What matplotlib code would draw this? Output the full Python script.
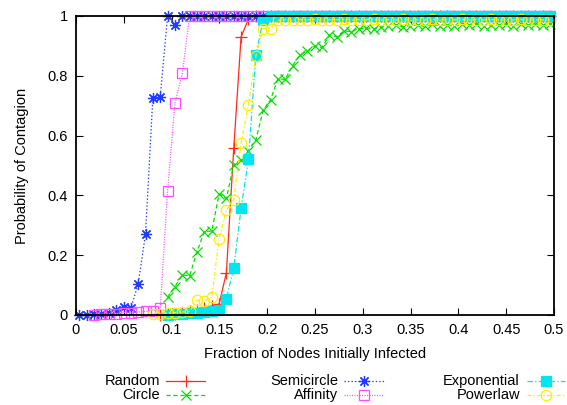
import numpy as np
import matplotlib
matplotlib.use("Agg")
import matplotlib.pyplot as plt
from matplotlib.lines import Line2D
from matplotlib.ticker import FuncFormatter, MultipleLocator

plt.rcParams["font.family"] = ["Liberation Sans", "DejaVu Sans"]
plt.rcParams["font.size"] = 10.5
plt.rcParams["lines.scale_dashes"] = False

# sampled fractions of initially infected nodes (shared sweep)
frac = np.round(0.0035 + np.arange(65) / 130, 4)

semicircle = [0.0, 0.0, 0.002, 0.005, 0.008, 0.017, 0.028, 0.022, 0.103, 0.27,
              0.727, 0.73, 1.0, 0.97] + [1.0] * 51
affinity = [0.0, 0.003, 0.005, 0.005, 0.008, 0.008, 0.01, 0.012, 0.015, 0.022,
            0.416, 0.708, 0.808, 1.0] + [1.0] * 49
random_ = [0.0, 0.002, 0.004, 0.007, 0.012, 0.018, 0.025, 0.03, 0.037, 0.141,
           0.557, 0.93, 0.99] + [1.0] * 41
circle = [0.06, 0.095, 0.134, 0.131, 0.212, 0.279, 0.281, 0.405, 0.39, 0.503,
          0.52, 0.55, 0.585, 0.685, 0.72, 0.79, 0.788, 0.834, 0.87, 0.883,
          0.899, 0.895, 0.935, 0.931, 0.95, 0.948, 0.958, 0.96, 0.958, 0.962,
          0.967, 0.971, 0.964, 0.968, 0.97, 0.965, 0.972, 0.968, 0.97, 0.966,
          0.972, 0.969, 0.974, 0.967, 0.971, 0.969, 0.973, 0.968, 0.972, 0.97,
          0.974, 0.969, 0.972]
exponential = [0.0, 0.002, 0.004, 0.006, 0.008, 0.011, 0.014, 0.018, 0.055, 0.156,
               0.357, 0.521, 0.868, 0.987] + [1.0] * 39
powerlaw = [0.004, 0.005, 0.006, 0.008, 0.01, 0.012, 0.05, 0.047, 0.06, 0.254,
            0.351, 0.385, 0.576, 0.704, 0.866, 0.958, 0.958, 0.985, 0.988, 0.986,
            0.988, 0.987, 0.989, 0.986, 0.988, 0.987, 0.989, 0.986, 0.988, 0.987,
            0.989, 0.986, 0.988, 0.987, 0.989, 0.986, 0.988, 0.987, 0.989, 0.986,
            0.988, 0.987, 0.989, 0.986, 0.988, 0.987, 0.989, 0.986, 0.988, 0.987,
            0.989, 0.986, 0.988, 0.987, 0.988]

# (label, values, first sweep index, colour, dashes, marker, size, filled)
series = [
    ("Random", random_, 11, "#ff2a1a", None, "+", 8.5, True),
    ("Circle", circle, 12, "#00e000", (3.0, 2.0), "x", 7, True),
    ("Semicircle", semicircle, 0, "#1f3cff", (1.0, 1.5), (8, 2, 0), 8, True),
    ("Affinity", affinity, 2, "#ff4dff", (0.8, 1.0), "s", 7, False),
    ("Exponential", exponential, 12, "#00e6f0", (4.0, 1.5, 1.0, 1.5), "s", 7, True),
    ("Powerlaw", powerlaw, 10, "#ffee00", (3.0, 1.5, 1.0, 1.5), "o", 7.5, False),
]

W, H = 567, 405
fig = plt.figure(figsize=(W / 100, H / 100), dpi=100)
ax = fig.add_axes([76 / W, 1 - 315 / H, (554 - 76) / W, (315 - 16) / H])


def style(color, dashes, marker, size, filled):
    kw = dict(color=color, linewidth=0.9, marker=marker, markersize=size,
              markeredgewidth=0.9, markeredgecolor=color)
    if dashes is not None:
        kw["dashes"] = dashes
    if marker == "s" and filled:
        kw["markerfacecolor"] = color
    elif not filled:
        kw["markerfacecolor"] = "none"
    return kw


handles = []
for label, vals, start, color, dashes, marker, size, filled in series:
    xs = frac[start:start + len(vals)]
    kw = style(color, dashes, marker, size, filled)
    ax.plot(xs, vals, clip_on=False, **kw)
    handles.append((label, kw))

ax.set_xlim(0, 0.5)
ax.set_ylim(0, 1)
ax.xaxis.set_major_locator(MultipleLocator(0.05))
ax.yaxis.set_major_locator(MultipleLocator(0.2))
ax.xaxis.set_major_formatter(FuncFormatter(lambda v, p: f"{v:g}"))
ax.yaxis.set_major_formatter(FuncFormatter(lambda v, p: f"{v:g}"))
ax.tick_params(direction="in", length=5, width=0.8, top=True, right=True,
               labelsize=10.5, pad=6)
for sp in ax.spines.values():
    sp.set_linewidth(1.3)
ax.set_xlabel("Fraction of Nodes Initially Infected", labelpad=7)
ax.set_ylabel("Probability of Contagion", labelpad=13)

# three-column key under the plot, text to the left of each sample
cols = [(160, 166, 205), (338, 344, 384), (520, 527, 565)]
rows = [381, 395]
for i, (label, kw) in enumerate(handles):
    tx, x0, x1 = cols[i // 2]
    y = 1 - rows[i % 2] / H
    fig.text(tx / W, y, label, ha="right", va="center", fontsize=10.5)
    line_kw = {k: v for k, v in kw.items() if k != "marker"}
    fig.add_artist(Line2D([x0 / W, x1 / W], [y, y], transform=fig.transFigure,
                          marker="None", **line_kw))
    mark_kw = {k: v for k, v in kw.items() if k not in ("dashes", "linewidth")}
    fig.add_artist(Line2D([(x0 + x1) / 2 / W], [y], transform=fig.transFigure,
                          linestyle="None", **mark_kw))

fig.savefig("out.png", dpi=100)
